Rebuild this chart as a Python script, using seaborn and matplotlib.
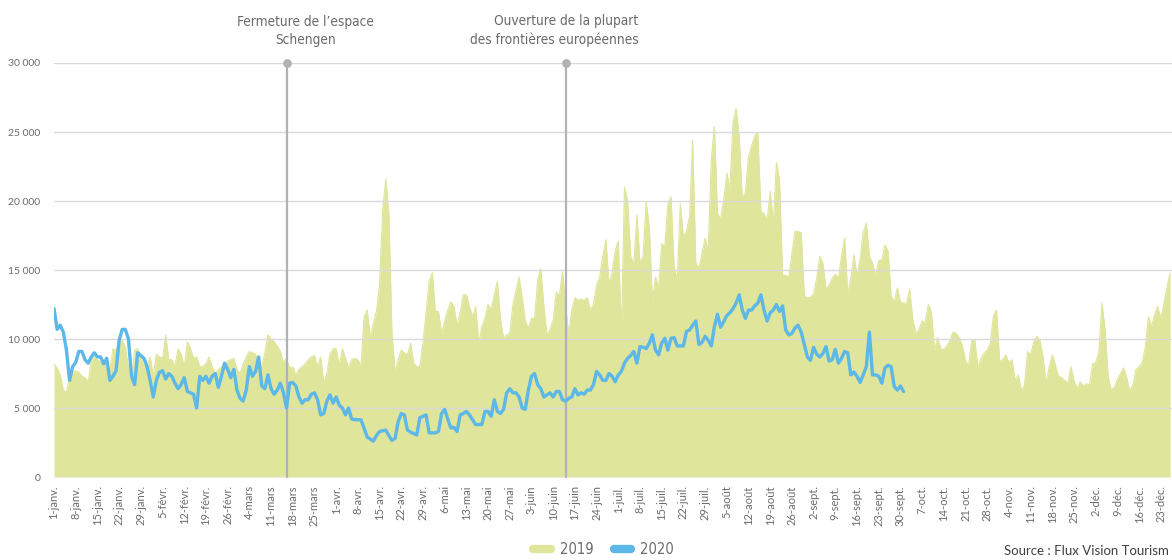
import numpy as np
import pandas as pd
import seaborn as sns
import matplotlib.pyplot as plt
from matplotlib.lines import Line2D
from matplotlib.ticker import FuncFormatter

# visiteurs par jour, en milliers (index 0 = 1er janvier)
visitors_2019 = [
    8.2, 7.9, 7.4, 6.3, 6.1, 7.3, 7.6, 7.7, 7.6, 7.3, 7.2, 6.9, 8.4, 8.7, 8.5, 8.3, 8.5, 8.0, 7.8, 9.3,
    9.2, 9.8, 9.9, 9.4, 7.9, 6.8, 9.2, 9.3, 8.6, 8.1, 8.0, 8.7, 7.3, 8.9, 8.7, 8.6, 10.3, 8.5, 8.5, 8.0,
    9.3, 8.9, 8.0, 9.8,
    9.3, 8.6, 8.7, 8.0, 8.0, 8.2, 8.7, 8.0, 7.5, 7.8, 8.0, 8.1, 8.4, 8.5, 8.6, 7.8, 7.5, 8.2, 8.7, 9.1,
    9.0, 8.9, 8.3, 8.0, 9.0, 10.3, 10.0, 9.8, 9.5, 9.1, 8.3, 8.6, 7.9, 8.0, 7.4, 7.8, 8.0, 8.2, 8.5, 8.7,
    8.8, 8.0, 8.7, 6.8, 7.5, 8.9, 9.3,
    9.3, 8.1, 9.3, 8.6, 7.9, 8.5, 8.6, 8.5, 8.0, 11.6, 12.1, 10.1, 11.1, 12.0, 13.9, 19.3, 21.6, 19.0, 10.4, 7.6,
    8.5, 9.2, 9.0, 8.85, 9.7, 8.25, 8.0, 8.0, 9.7, 11.9, 14.2, 14.8, 12.0, 12.0, 10.4, 11.3, 12.1, 12.7, 12.35, 11.0,
    11.9, 13.2, 13.2, 12.35, 11.6, 12.35, 9.7,
    10.9, 11.5, 12.5, 12.1, 13.2, 14.2, 11.4, 10.05, 10.3, 10.4, 12.5, 13.5, 14.5, 13.0, 11.3, 10.8, 11.5, 11.5, 14.3, 15.1,
    12.35, 10.3, 10.7, 11.4, 13.4, 13.1, 14.9, 12.5, 10.3, 12.1, 13.0, 12.8, 12.9, 12.8, 13.0, 12.1, 12.5, 13.9, 14.5, 16.0,
    17.2, 14.0, 14.8, 16.4, 17.1, 10.4, 21.0,
    20.0, 16.0, 15.4, 19.0, 15.5, 16.0, 19.9, 18.1, 12.8, 14.5, 13.7, 16.9, 16.7, 19.8, 20.3, 15.2, 14.3, 19.8, 17.4, 17.8,
    18.9, 24.4, 15.5, 15.1, 16.2, 17.3, 16.4, 23.0, 25.4, 19.1, 18.7, 20.1, 22.0, 20.9, 25.7, 26.7, 24.7, 20.2, 20.6, 23.2,
    24.0, 24.7, 25.0, 19.2, 19.1, 18.6,
    20.7, 18.4, 22.8, 21.5, 14.6, 14.6, 14.5, 16.2, 17.8, 17.8, 17.7, 13.1, 13.0, 13.0, 13.3, 14.4, 16.0, 15.5, 13.6, 13.9,
    14.4, 14.7, 14.4, 16.0, 17.3, 13.3, 14.4, 16.1, 14.6, 15.8, 17.7, 18.4, 16.0, 15.5, 14.6, 15.7, 15.7, 16.8, 16.4, 13.1,
    12.7, 13.7, 12.7, 12.6, 12.6, 13.6, 11.4,
    10.4, 10.7, 11.3, 11.2, 12.5, 11.9, 9.2, 10.1, 9.3, 9.25, 9.5, 9.9, 10.5, 10.4, 10.1, 9.5, 8.4, 8.1, 9.9, 9.9,
    7.9, 8.6, 9.0, 9.2, 9.7, 11.7, 12.1, 8.4, 8.5, 8.85, 8.3, 8.5, 7.0, 7.4, 6.3, 6.6, 9.1, 8.85, 9.8, 10.2,
    9.9, 8.7, 6.8, 8.0, 8.85, 8.1, 7.3,
    7.2, 7.0, 6.8, 8.0, 7.0, 6.4, 6.9, 6.6, 6.75, 6.7, 8.2, 8.3, 9.0, 12.6, 10.7, 7.3, 6.3, 6.5, 7.1, 7.5,
    7.9, 7.2, 6.2, 6.7, 7.8, 8.0, 8.3, 9.45, 11.6, 10.9, 11.8, 12.35, 11.5, 12.6, 13.8, 14.8,
]

visitors_2020 = [
    12.2, 10.7, 11.0, 10.5, 9.2, 7.0, 8.0, 8.3, 9.1, 9.1, 8.5, 8.25, 8.7, 9.0, 8.7, 8.7, 8.2, 8.6, 7.0, 7.3,
    7.7, 9.9, 10.7, 10.7, 10.0, 7.3, 6.7, 9.0, 8.8, 8.6, 8.0, 7.0, 5.8, 7.0, 7.6, 7.7, 7.1, 7.5, 7.3, 6.8,
    6.4, 6.7, 7.2, 6.2,
    6.1, 6.0, 5.0, 7.3, 7.0, 7.3, 6.8, 7.3, 7.5, 6.5, 7.3, 8.25, 7.8, 7.2, 7.8, 6.3, 5.7, 5.5, 6.3, 8.0,
    7.3, 7.65, 8.7, 6.6, 6.4, 7.4, 6.4, 6.0, 6.3, 6.8, 6.1, 5.0, 6.8, 6.85, 6.6, 5.8, 5.35, 5.6, 5.6, 6.0,
    6.1, 5.6, 4.5, 4.6, 5.5, 5.95, 5.35,
    5.8, 5.2, 5.0, 4.5, 5.0, 4.2, 4.15, 4.15, 4.15, 3.55, 2.9, 2.75, 2.6, 3.0, 3.3, 3.35, 3.4, 3.0, 2.65, 2.8,
    4.0, 4.6, 4.5, 3.4, 3.25, 3.15, 3.05, 4.3, 4.4, 4.5, 3.2, 3.2, 3.2, 3.3, 4.6, 4.9, 4.2, 3.55, 3.6, 3.3,
    4.5, 4.6, 4.75, 4.5, 4.15, 3.8, 3.8,
    3.8, 4.75, 4.75, 4.4, 5.6, 4.75, 4.6, 4.9, 6.1, 6.4, 6.1, 6.1, 5.8, 5.0, 4.9, 6.3, 7.3, 7.5, 6.7, 6.4,
    5.8, 5.95, 6.1, 5.8, 6.2, 6.2, 5.6, 5.5, 5.7, 5.8, 6.4, 5.95, 6.1, 6.0, 6.3, 6.3, 6.7, 7.65, 7.4, 7.0,
    7.0, 7.5, 7.3, 6.9, 7.4, 7.65, 8.25,
    8.6, 8.8, 9.1, 8.25, 9.45, 9.4, 9.3, 9.7, 10.3, 9.2, 8.85, 9.7, 10.05, 9.2, 10.05, 10.1, 9.5, 9.5, 9.5, 10.55,
    10.65, 11.0, 11.3, 9.6, 9.75, 10.2, 9.9, 9.5, 10.9, 11.8, 10.85, 11.25, 11.7, 11.9, 12.2, 12.6, 13.2, 12.1, 11.5, 12.1,
    12.1, 12.4, 12.6, 13.2, 12.1, 11.3, 11.9,
    12.1, 12.5, 12.0, 12.4, 10.65, 10.3, 10.4, 10.8, 11.0, 10.5, 9.6, 8.7, 8.45, 9.4, 8.9, 8.7, 8.95, 9.45, 8.4, 8.5,
    9.25, 8.25, 8.6, 9.1, 9.0, 7.4, 7.6, 7.3, 6.85, 7.4, 8.0, 10.5, 7.4, 7.4, 7.3, 6.8, 7.9, 8.1, 8.0, 6.55,
    6.3, 6.6, 6.2,
]

tick_labels = [
    "1-janv.", "8-janv.", "15-janv.", "22-janv.", "29-janv.", "5-févr.", "12-févr.", "19-févr.", "26-févr.",
    "4-mars", "11-mars", "18-mars", "25-mars", "1-avr.", "8-avr.", "15-avr.", "22-avr.", "29-avr.",
    "6-mai", "13-mai", "20-mai", "27-mai", "3-juin", "10-juin", "17-juin", "24-juin", "1-juil.", "8-juil.",
    "15-juil.", "22-juil.", "29-juil.", "5-août", "12-août", "19-août", "26-août", "2-sept.", "9-sept.",
    "16-sept.", "23-sept.", "30-sept.", "7-oct.", "14-oct.", "21-oct.", "28-oct.", "4-nov.", "11-nov.",
    "18-nov.", "25-nov.", "2-déc.", "9-déc.", "16-déc.", "23-déc.",
]

# jours des deux événements (index depuis le 1er janvier)
event_days = [75, 165]
event_texts = ["Fermeture de l’espace\nSchengen", "Ouverture de la plupart\ndes frontières européennes"]

df19 = pd.DataFrame({"jour": np.arange(len(visitors_2019)), "visiteurs": np.array(visitors_2019) * 1000})
df20 = pd.DataFrame({"jour": np.arange(len(visitors_2020)), "visiteurs": np.array(visitors_2020) * 1000})

sns.set_theme(style="white")
plt.rcParams["font.family"] = ["Lato", "DejaVu Sans"]

green = "#dfe59a"
blue = "#5cb8e8"
grey_line = "#aeb3b8"
text_grey = "#6b6b6b"

fig = plt.figure(figsize=(11.72, 5.6), dpi=100)
ax = fig.add_axes([0.0461, 0.1482, 0.9539, 0.7393])

ax.fill_between(df19["jour"], df19["visiteurs"], color=green, lw=0, zorder=1)
sns.lineplot(data=df19, x="jour", y="visiteurs", color=green, lw=0.8, ax=ax, zorder=1)

for yv in range(0, 30001, 5000):
    ax.axhline(yv, color="#dadada", lw=1, zorder=1.5)

for d, txt, ha, dx in zip(event_days, event_texts, ["center", "right"], [19, 73]):
    ax.plot([d, d], [0, 30000], color=grey_line, lw=1.6, zorder=2, clip_on=False)
    ax.scatter([d], [30000], s=28, color=grey_line, zorder=2.1, clip_on=False)
    ax.annotate(txt, xy=(d, 30000), xytext=(dx, 16), textcoords="offset pixels",
                ha=ha, va="bottom", multialignment=ha, fontsize=9.8, color=text_grey,
                family="DejaVu Sans", fontstretch="condensed", linespacing=1.4)

sns.lineplot(data=df20, x="jour", y="visiteurs", color=blue, lw=2.4, ax=ax, zorder=3)

ax.set_xlim(0, 360.6)
ax.set_ylim(0, 30000)
ax.set_xticks(np.arange(0, 7 * len(tick_labels), 7))
ax.set_xticklabels(tick_labels, rotation=90)
ax.set_yticks(range(0, 30001, 5000))
ax.yaxis.set_major_formatter(FuncFormatter(lambda v, p: f"{int(v):,}".replace(",", " ")))
ax.tick_params(axis="x", length=4, width=0.8, color="#cccccc", labelsize=8, labelcolor=text_grey, pad=2)
ax.tick_params(axis="y", length=0, labelsize=7.5, labelcolor=text_grey, pad=10)
ax.set_xlabel("")
ax.set_ylabel("")
sns.despine(ax=ax, left=True, bottom=True)

handles = [Line2D([], [], color=green, lw=6, solid_capstyle="round"),
           Line2D([], [], color=blue, lw=6, solid_capstyle="round")]
leg = fig.legend(handles, ["2019", "2020"], loc="center", bbox_to_anchor=(0.515, 0.018), ncol=2,
                 frameon=False, handlelength=1.2, columnspacing=1.4, handletextpad=0.6,
                 prop={"family": "DejaVu Sans", "stretch": "condensed", "size": 10.5})
for t in leg.get_texts():
    t.set_color(text_grey)

fig.text(0.997, 0.016, "Source : Flux Vision Tourism", ha="right", va="center", fontsize=9.5, color="#404040")

fig.savefig("out.png", dpi=100)
